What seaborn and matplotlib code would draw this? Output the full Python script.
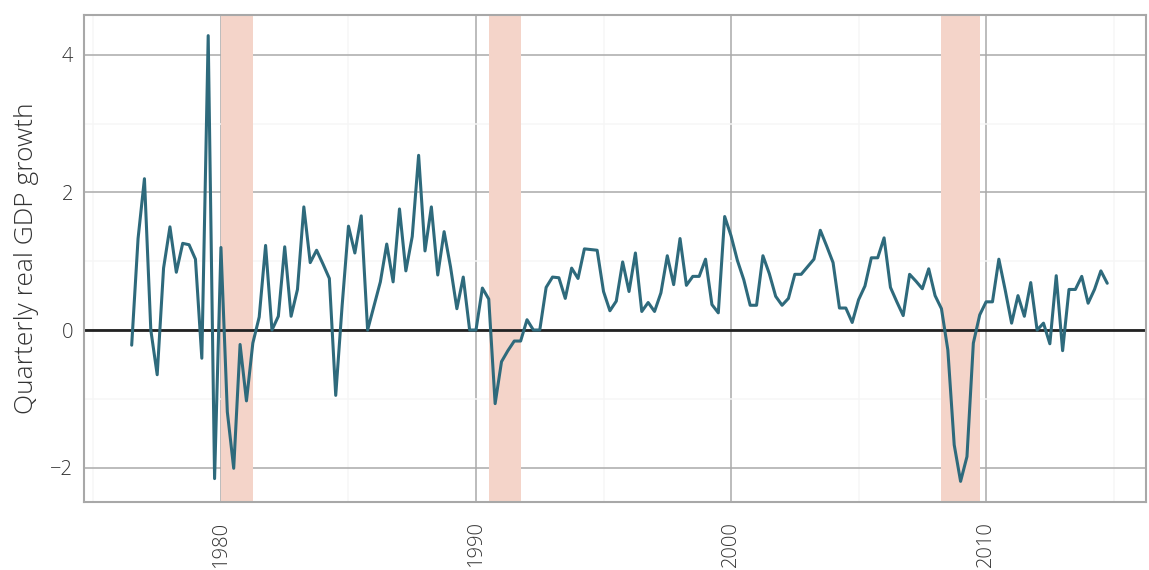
import numpy as np
import pandas as pd
import matplotlib
matplotlib.use("Agg")
import matplotlib.pyplot as plt
from matplotlib.ticker import MultipleLocator
import seaborn as sns

# quarterly growth, 1976Q3 .. 2014Q4
start_year = 1976.5
growth = [
    -0.22, 1.33, 2.20, 0.00, -0.65, 0.90, 1.50, 0.84, 1.26, 1.24,
    1.03, -0.41, 4.28, -2.16, 1.20, -1.19, -2.01, -0.21, -1.03, -0.19,
    0.19, 1.23, 0.00, 0.20, 1.21, 0.20, 0.59, 1.79, 0.98, 1.16,
    0.96, 0.75, -0.95, 0.35, 1.51, 1.12, 1.66, 0.00, 0.35, 0.70,
    1.25, 0.70, 1.76, 0.86, 1.36, 2.54, 1.15, 1.79, 0.80, 1.43,
    0.92, 0.31, 0.77, 0.00, 0.00, 0.61, 0.45, -1.07, -0.46, -0.30,
    -0.16, -0.16, 0.15, 0.00, 0.00, 0.62, 0.77, 0.76, 0.46, 0.90,
    0.75, 1.18, 1.17, 1.16, 0.56, 0.28, 0.42, 0.99, 0.56, 1.12,
    0.27, 0.40, 0.27, 0.54, 1.08, 0.66, 1.33, 0.65, 0.78, 0.78,
    1.03, 0.37, 0.25, 1.65, 1.37, 1.01, 0.73, 0.36, 0.36, 1.08,
    0.82, 0.49, 0.36, 0.46, 0.81, 0.81, 0.92, 1.03, 1.45, 1.22,
    0.98, 0.32, 0.32, 0.11, 0.44, 0.64, 1.05, 1.05, 1.34, 0.62,
    0.41, 0.21, 0.81, 0.71, 0.60, 0.89, 0.50, 0.31, -0.29, -1.67,
    -2.20, -1.84, -0.19, 0.22, 0.41, 0.41, 1.03, 0.58, 0.10, 0.50,
    0.20, 0.69, 0.00, 0.10, -0.20, 0.79, -0.30, 0.59, 0.59, 0.78,
    0.39, 0.59, 0.86, 0.68,
]
years = [start_year + 0.25 * i for i in range(len(growth))]

# recession periods (start, end)
rec_start = [1980.0, 1990.5, 2008.25]
rec_end = [1981.25, 1991.75, 2009.75]

df = pd.DataFrame({"year": years, "growth": growth})

sns.set_style("white")
plt.rcParams["font.family"] = ["Open Sans", "DejaVu Sans"]

fig = plt.figure(figsize=(11.49, 5.70), dpi=100)
ax = fig.add_axes([0.0731, 0.1193, 0.9243, 0.8544])

for s, e in zip(rec_start, rec_end):
    ax.axvspan(s, e, color="#f4d4c9", lw=0, zorder=1)

sns.lineplot(data=df, x="year", y="growth", ax=ax, color="#2e6a7c",
             linewidth=2.2, zorder=3)
ax.axhline(0, color="#222222", lw=2, zorder=2)

ax.set_xlim(1974.63, 2016.27)
ax.set_ylim(-2.5, 4.58)
ax.xaxis.set_major_locator(MultipleLocator(10))
ax.xaxis.set_minor_locator(MultipleLocator(5))
ax.yaxis.set_major_locator(MultipleLocator(2))
ax.yaxis.set_minor_locator(MultipleLocator(1))
ax.grid(which="major", color="#aaaaaa", lw=1.1, zorder=0)
ax.grid(which="minor", color="#f6f6f6", lw=1.1, zorder=0)
ax.set_axisbelow(True)

for sp in ax.spines.values():
    sp.set_color("#a8a8a8")
    sp.set_linewidth(1.5)

ax.tick_params(axis="x", which="major", direction="out", length=10,
               color="#a8a8a8", width=1.5, labelrotation=90,
               labelsize=14.5, labelcolor="#333333", pad=4)
ax.tick_params(axis="y", which="major", direction="out", length=4,
               color="#a8a8a8", width=1.5, labelsize=14.5,
               labelcolor="#333333", pad=4)
ax.tick_params(which="minor", length=0)
for lab in ax.get_xticklabels() + ax.get_yticklabels():
    lab.set_fontweight("light")

ax.set_xlabel("")
ax.set_ylabel("Quarterly real GDP growth", fontsize=19, color="#333333",
              fontweight="light", labelpad=8)

fig.savefig("out.png", dpi=100)
